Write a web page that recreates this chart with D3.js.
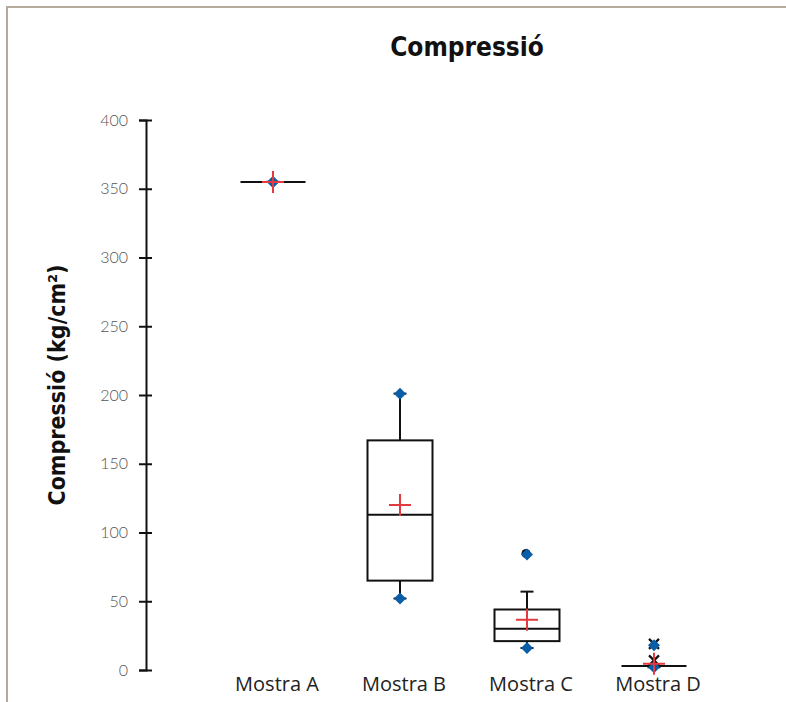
<!DOCTYPE html>
<html>
<head>
<meta charset="utf-8">
<script src="https://cdn.jsdelivr.net/npm/d3@7"></script>
<style>
  body { margin: 0; background: #fff; }
  svg { display: block; }
</style>
</head>
<body>
<svg id="chart"></svg>
<script>
// dades
var samples = ["Mostra A", "Mostra B", "Mostra C", "Mostra D"];
var minVals = [355, 52, 16, 2];
var q1Vals = [355, 65, 21, 3];
var medianVals = [355, 113, 30, 3];
var q3Vals = [355, 167, 44, 3];
var maxVals = [355, 201, 84, 18];
var whiskerHi = [355, 201, 57, 3];
var meanVals = [355, 120, 36.5, 4.5];
var outlierDots = [[], [], [84], []];
var outlierCrosses = [[], [], [], [19, 7]];
var yTicks = [0, 50, 100, 150, 200, 250, 300, 350, 400];

var width = 786, height = 702;
var svg = d3.select("#chart").attr("width", width).attr("height", height);

// marc
svg.append("path")
    .attr("d", "M7,702V7H786")
    .attr("fill", "none")
    .attr("stroke", "#b5aa9b")
    .attr("stroke-width", 2);

var x = d3.scalePoint().domain(samples).range([146, 781]).padding(1);
var y = d3.scaleLinear().domain([0, 400]).range([670, 120]);

// eix y
var yAxis = svg.append("g")
    .attr("transform", "translate(146,0)")
    .call(d3.axisLeft(y).tickValues(yTicks).tickSize(7).tickPadding(11));
yAxis.select(".domain").attr("stroke", "#111").attr("stroke-width", 2);
yAxis.selectAll(".tick line").attr("stroke", "#111").attr("stroke-width", 2).attr("x2", -7).attr("x1", 6);
yAxis.selectAll(".tick text")
    .attr("fill", "#555")
    .style("font-family", "Lato, sans-serif")
    .style("font-weight", 300)
    .style("font-size", "16px");

// etiquetes x
svg.selectAll(".xlab")
    .data(samples)
    .enter().append("text")
    .attr("class", "xlab")
    .attr("x", function(d) { return x(d) + 4; })
    .attr("y", 691)
    .attr("text-anchor", "middle")
    .attr("fill", "#222")
    .style("font-family", "'Open Sans', sans-serif")
    .style("font-size", "20px")
    .text(function(d) { return d; });

// títols
svg.append("text")
    .attr("x", 467).attr("y", 56)
    .attr("text-anchor", "middle")
    .attr("fill", "#111")
    .style("font-family", "'DejaVu Sans Condensed', sans-serif")
    .style("font-weight", "bold")
    .style("font-size", "26px")
    .text("Compressió");

svg.append("text")
    .attr("transform", "translate(65,385) rotate(-90)")
    .attr("text-anchor", "middle")
    .attr("fill", "#111")
    .style("font-family", "'DejaVu Sans Condensed', sans-serif")
    .style("font-weight", "bold")
    .style("font-size", "23px")
    .text("Compressió (kg/cm²)");

var boxW = 65, capW = 13;
var g = svg.append("g");

samples.forEach(function(s, i) {
    var cx = x(s);
    // bigotis
    g.append("line")
        .attr("x1", cx).attr("x2", cx)
        .attr("y1", y(q3Vals[i])).attr("y2", y(whiskerHi[i]))
        .attr("stroke", "#111").attr("stroke-width", 2);
    g.append("line")
        .attr("x1", cx).attr("x2", cx)
        .attr("y1", y(q1Vals[i])).attr("y2", y(minVals[i]))
        .attr("stroke", "#111").attr("stroke-width", 2);
    [whiskerHi[i], minVals[i]].forEach(function(v) {
        g.append("line")
            .attr("x1", cx - capW / 2).attr("x2", cx + capW / 2)
            .attr("y1", y(v)).attr("y2", y(v))
            .attr("stroke", "#111").attr("stroke-width", 2);
    });
    // caixa
    g.append("rect")
        .attr("x", cx - boxW / 2)
        .attr("y", y(q3Vals[i]))
        .attr("width", boxW)
        .attr("height", y(q1Vals[i]) - y(q3Vals[i]))
        .attr("fill", "#fff")
        .attr("stroke", "#111").attr("stroke-width", 2);
    g.append("line")
        .attr("x1", cx - boxW / 2).attr("x2", cx + boxW / 2)
        .attr("y1", y(medianVals[i])).attr("y2", y(medianVals[i]))
        .attr("stroke", "#111").attr("stroke-width", 2);
    // valors atípics
    outlierDots[i].forEach(function(v) {
        g.append("circle")
            .attr("cx", cx - 1).attr("cy", y(v) - 1)
            .attr("r", 4.5)
            .attr("fill", "#111");
    });
    outlierCrosses[i].forEach(function(v) {
        g.append("path")
            .attr("d", "M-5,-5L5,5M-5,5L5,-5")
            .attr("transform", "translate(" + cx + "," + y(v) + ")")
            .attr("stroke", "#111").attr("stroke-width", 2.2);
    });
    // mínim i màxim
    [minVals[i], maxVals[i]].forEach(function(v) {
        g.append("path")
            .attr("d", "M0,-6L6,0L0,6L-6,0Z")
            .attr("transform", "translate(" + cx + "," + y(v) + ")")
            .attr("fill", "#0a5ea8");
    });
    // mitjana
    var my = y(meanVals[i]);
    g.append("path")
        .attr("d", "M" + (cx - 11) + "," + my + "H" + (cx + 11) + "M" + cx + "," + (my - 11) + "V" + (my + 11))
        .attr("stroke", "#e23a3f").attr("stroke-width", 2);
});
</script>
</body>
</html>
